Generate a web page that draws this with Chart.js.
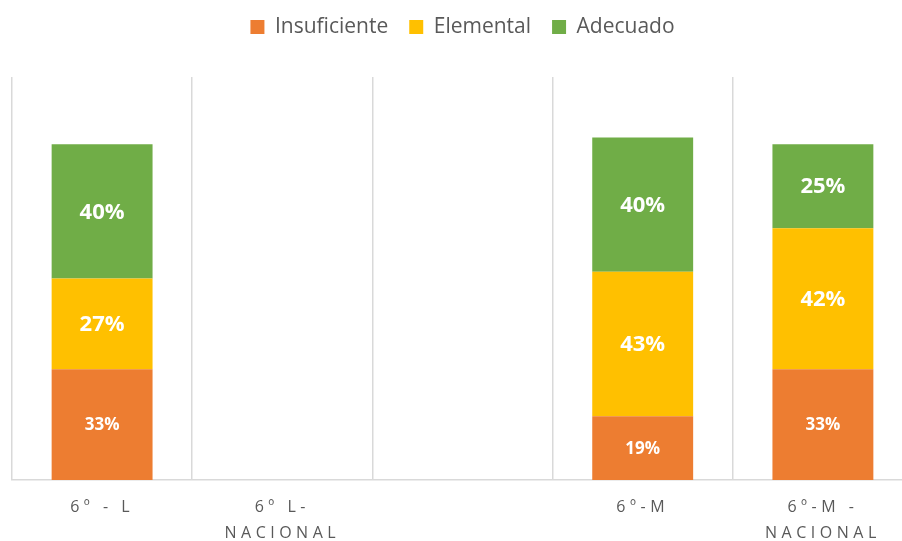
<!DOCTYPE html>
<html lang="es">
<head>
<meta charset="utf-8">
<title>Niveles de logro</title>
<script src="https://cdn.jsdelivr.net/npm/chart.js@4/dist/chart.umd.min.js"></script>
<style>
    html, body {
        margin: 0;
        padding: 0;
        background: #ffffff;
        overflow: hidden;
    }
    .chart-wrap {
        position: relative;
        width: 916px;
        height: 541px;
    }
</style>
</head>
<body>
<div class="chart-wrap">
    <canvas id="nivelesChart"></canvas>
</div>
<script>
// Categories (multi-line labels as arrays)
const categories = ['6º - L', ['6º L-', 'NACIONAL'], '', '6º-M', ['6º-M -', 'NACIONAL']];

// Series values in percent (null = no bar)
const insuficiente = [33, null, null, 19, 33];
const elemental = [27, null, null, 43, 42];
const adecuado = [40, null, null, 40, 25];

const seriesNames = ['Insuficiente', 'Elemental', 'Adecuado'];
const seriesColors = ['#ED7D31', '#FFC000', '#70AD47'];

// Wait for the DOM to be fully loaded
document.addEventListener('DOMContentLoaded', function() {
    initNivelesChart();
});

// Draws the percentage inside every bar segment
const segmentLabels = {
    id: 'segmentLabels',
    afterDatasetsDraw(chart) {
        const ctx = chart.ctx;
        ctx.save();
        ctx.fillStyle = '#ffffff';
        ctx.textAlign = 'center';
        ctx.textBaseline = 'middle';
        chart.data.datasets.forEach((dataset, di) => {
            const meta = chart.getDatasetMeta(di);
            // the orange series uses a smaller label in the original
            const size = di === 0 ? 17 : 22;
            ctx.font = `bold ${size}px "Open Sans", sans-serif`;
            meta.data.forEach((bar, i) => {
                const value = dataset.data[i];
                if (value === null || value === undefined) return;
                const props = bar.getProps(['x', 'y', 'base'], true);
                ctx.fillText(value + '%', props.x, (props.y + props.base) / 2 + 1);
            });
        });
        ctx.restore();
    }
};

// Letter spacing on the category labels + fixed legend height
const layoutTweaks = {
    id: 'layoutTweaks',
    beforeInit(chart) {
        const origFit = chart.legend.fit;
        chart.legend.fit = function() {
            origFit.call(this);
            this.height = 81.5;
        };
    },
    beforeDraw(chart) {
        const xScale = chart.scales.x;
        if (xScale._spaced) return;
        const origDraw = xScale.drawLabels;
        xScale.drawLabels = function(area) {
            const ctx = this.ctx;
            ctx.save();
            ctx.letterSpacing = '4.5px';
            origDraw.call(this, area);
            ctx.restore();
        };
        xScale._spaced = true;
    }
};

function initNivelesChart() {
    const ctx = document.getElementById('nivelesChart').getContext('2d');

    const values = [insuficiente, elemental, adecuado];
    const datasets = seriesNames.map((name, i) => ({
        label: name,
        data: values[i],
        backgroundColor: seriesColors[i],
        borderWidth: 0,
        barPercentage: 0.56,
        categoryPercentage: 1
    }));

    new Chart(ctx, {
        type: 'bar',
        data: {
            labels: categories,
            datasets: datasets
        },
        plugins: [segmentLabels, layoutTweaks],
        options: {
            responsive: true,
            maintainAspectRatio: false,
            animation: false,
            layout: {
                padding: { left: 12, right: 3, top: -4.5, bottom: 0 }
            },
            plugins: {
                legend: {
                    position: 'top',
                    labels: {
                        boxWidth: 14,
                        boxHeight: 14,
                        padding: 21,
                        color: '#595959',
                        font: { family: '"Open Sans", sans-serif', size: 21 }
                    }
                },
                tooltip: { enabled: false }
            },
            scales: {
                x: {
                    stacked: true,
                    afterFit: function(scale) {
                        scale.height = 61;
                    },
                    grid: {
                        offset: true,
                        color: '#D9D9D9',
                        lineWidth: 1.5,
                        drawTicks: false
                    },
                    border: {
                        display: true,
                        color: '#D9D9D9',
                        width: 1.5
                    },
                    ticks: {
                        color: '#595959',
                        padding: 15,
                        maxRotation: 0,
                        autoSkip: false,
                        font: { family: '"Open Sans", sans-serif', size: 16, lineHeight: 1.6 }
                    }
                },
                y: {
                    stacked: true,
                    display: false,
                    min: 0,
                    max: 120
                }
            }
        }
    });
}
</script>
</body>
</html>
